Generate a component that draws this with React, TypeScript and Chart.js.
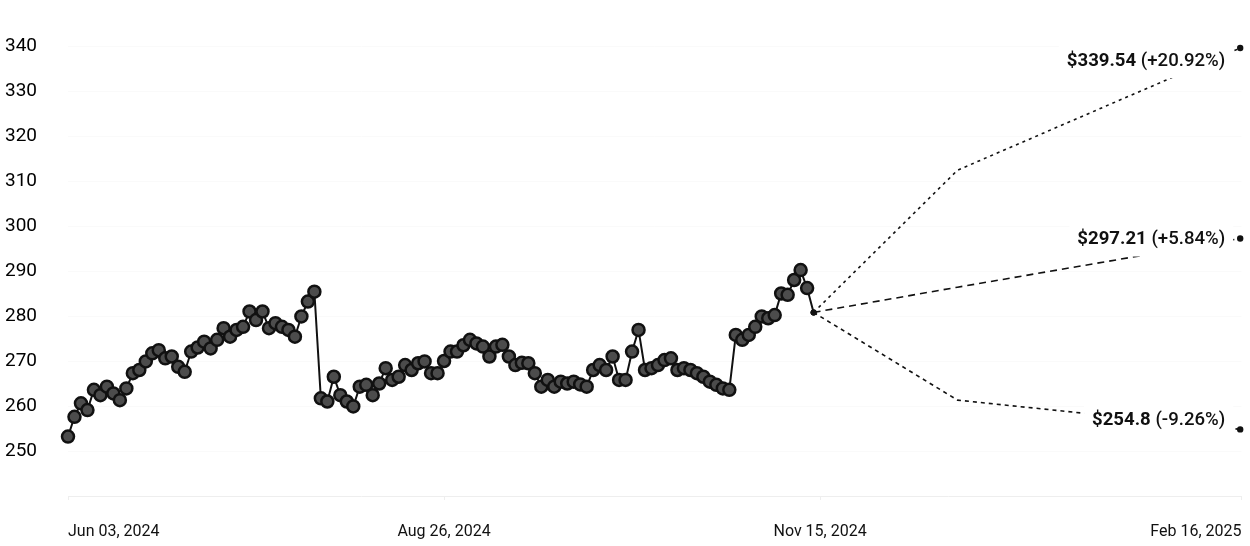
import React, { useEffect, useRef } from 'react';
import { Chart, registerables } from 'chart.js';

Chart.register(...registerables);

// Daily closing prices, Jun 03 2024 .. Nov 14 2024 (one value per trading day)
const closePrices = [
  253.2, 257.6, 260.6, 259.1, 263.6, 262.4, 264.3, 262.8, 261.3, 263.9,
  267.3, 268.0, 269.9, 271.7, 272.4, 270.6, 271.0, 268.7, 267.6, 272.1,
  273.0, 274.3, 272.8, 274.7, 277.3, 275.4, 276.9, 277.6, 281.0, 279.1,
  281.0, 277.3, 278.4, 277.6, 276.9, 275.4, 279.9, 283.2, 285.4,
  261.7, 261.0, 266.5, 262.4, 261.0, 259.9, 264.3, 264.7, 262.4, 265.0,
  268.4, 265.8, 266.5, 269.1, 268.0, 269.5, 269.9, 267.3, 267.3, 270.0,
  272.1, 272.1, 273.5, 274.7, 273.9, 273.2, 271.0, 273.2, 273.6, 271.0,
  269.1, 269.6, 269.5, 267.3, 264.3, 265.8, 264.3, 265.4, 265.0, 265.4,
  264.8, 264.3, 268.0, 269.1, 268.0, 271.0, 265.8, 265.8, 272.1, 276.9,
  268.0, 268.4, 269.1, 270.2, 270.6, 268.0, 268.4, 268.0, 267.3, 266.5,
  265.4, 264.7, 263.9, 263.6,
  275.8, 274.7, 275.8, 277.6, 279.9, 279.5, 280.2, 285.0, 284.7, 288.0,
  290.2, 286.2, 280.8,
];

// X axis ticks (position in trading-day steps) and their labels
const tickPositions = [0, 58, 116, 181];
const tickLabels = ['Jun 03, 2024', 'Aug 26, 2024', 'Nov 15, 2024', 'Feb 16, 2025'];

// Forecast paths: start (last close), intermediate, target
const forecastSteps = [115, 137.2, 180.8];
const forecastHigh = [280.8, 312.4, 339.54];
const forecastMid = [280.8, 286.4, 297.21];
const forecastLow = [280.8, 261.3, 254.8];
const forecastPriceText = ['$339.54', '$297.21', '$254.8'];
const forecastChangeText = ['(+20.92%)', '(+5.84%)', '(-9.26%)'];

const Y_MIN = 240;
const Y_MAX = 340;

const forecastLabelPlugin = {
  id: 'forecastLabels',
  afterDatasetsDraw(chart: any) {
    const ctx = chart.ctx;
    const offsets = [12, 0, -10];
    [1, 2, 3].forEach((dsIndex, k) => {
      const meta = chart.getDatasetMeta(dsIndex);
      const pt = meta.data[meta.data.length - 1];
      if (!pt) return;
      const bold = '700 18.6px Roboto';
      const normal = '500 18.6px Roboto';
      ctx.save();
      ctx.font = bold;
      const w1 = ctx.measureText(forecastPriceText[k]).width;
      ctx.font = normal;
      const sp = ctx.measureText(' ').width;
      const w2 = ctx.measureText(forecastChangeText[k]).width;
      const total = w1 + sp + w2;
      const right = pt.x - 15;
      const left = right - total;
      const cy = pt.y + offsets[k];
      ctx.fillStyle = '#ffffff';
      ctx.fillRect(left - 8, cy - 18, total + 16, 36);
      ctx.textBaseline = 'middle';
      ctx.textAlign = 'left';
      ctx.fillStyle = '#111111';
      ctx.font = bold;
      ctx.fillText(forecastPriceText[k], left, cy + 1);
      ctx.font = normal;
      ctx.fillText(forecastChangeText[k], left + w1 + sp, cy + 1);
      ctx.restore();
    });
  },
};

export default function App() {
  const canvasRef = useRef<HTMLCanvasElement | null>(null);

  useEffect(() => {
    if (!canvasRef.current) return;
    const last = closePrices.length - 1;
    const mk = (vals: number[]) => vals.map((v, i) => ({ x: forecastSteps[i], y: v }));
    const forecastStyle = (dash: number[]) => ({
      borderColor: '#111111',
      borderWidth: 1.6,
      borderDash: dash,
      pointRadius: [3, 0, 3.2],
      pointBackgroundColor: '#111111',
      pointBorderColor: '#111111',
      pointBorderWidth: 0,
      tension: 0,
      clip: false as any,
    });
    const chart = new Chart(canvasRef.current, {
      type: 'line',
      data: {
        datasets: [
          {
            data: closePrices.map((v, i) => ({ x: i, y: v })),
            borderColor: '#111111',
            borderWidth: 2,
            pointRadius: closePrices.map((_, i) => (i === last ? 0 : 6)),
            pointBackgroundColor: '#4c4c4c',
            pointBorderColor: '#111111',
            pointBorderWidth: 2.5,
            tension: 0,
            clip: false as any,
          },
          { data: mk(forecastHigh), ...forecastStyle([3, 4]) },
          { data: mk(forecastMid), ...forecastStyle([7, 5]) },
          { data: mk(forecastLow), ...forecastStyle([4, 4]) },
        ],
      },
      options: {
        animation: false,
        responsive: true,
        maintainAspectRatio: false,
        layout: { padding: { top: 46, left: 5, right: 6, bottom: 0 } },
        plugins: {
          legend: { display: false },
          tooltip: { enabled: false },
        },
        scales: {
          x: {
            type: 'linear',
            min: 0,
            max: 181,
            afterBuildTicks: (s: any) => {
              s.ticks = tickPositions.map((v) => ({ value: v }));
            },
            afterFit: (s: any) => {
              s.height = 50;
              s.paddingLeft = 0;
              s.paddingRight = 0;
            },
            ticks: {
              autoSkip: false,
              maxRotation: 0,
              align: 'inner',
              padding: 22,
              color: '#111111',
              font: { family: 'Roboto', size: 16 },
              callback: (v: any) => {
                const i = tickPositions.indexOf(Number(v));
                return i >= 0 ? tickLabels[i] : '';
              },
            },
            grid: { drawOnChartArea: false, drawTicks: true, tickLength: 4, color: '#eeeeee' },
            border: { display: true, color: '#eeeeee' },
          },
          y: {
            min: Y_MIN,
            max: Y_MAX,
            afterFit: (s: any) => {
              s.width = 63;
              s.paddingTop = 0;
              s.paddingBottom = 0;
            },
            ticks: {
              stepSize: 10,
              crossAlign: 'far',
              color: '#000000',
              font: { family: 'Roboto', size: 19 },
              callback: (v: any) => (Number(v) === Y_MIN ? '' : String(v)),
            },
            grid: { color: '#fafafa', drawTicks: false },
            border: { display: false },
          },
        },
      },
      plugins: [forecastLabelPlugin],
    });
    return () => chart.destroy();
  }, []);

  return (
    <div style={{ position: 'fixed', left: 0, top: 0, width: 1250, height: 546, background: '#fff' }}>
      <canvas ref={canvasRef} />
    </div>
  );
}
